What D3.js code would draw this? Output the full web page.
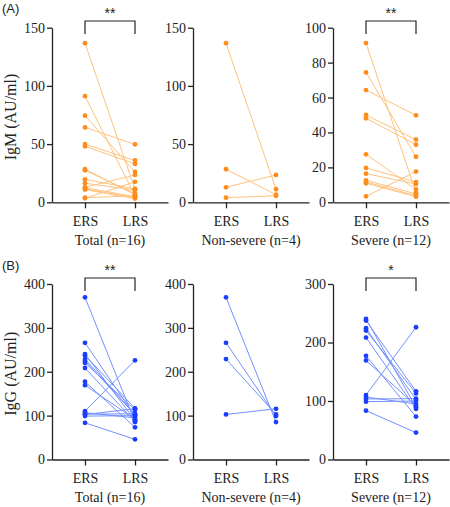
<!DOCTYPE html>
<html><head><meta charset="utf-8">
<script src="https://cdn.jsdelivr.net/npm/d3@7"></script>
<style>
html,body{margin:0;padding:0;background:#fff;}
svg{display:block;}
text{font-family:"Liberation Serif","Times New Roman",serif;fill:#222;}
</style></head>
<body>
<script>
const groups = ["ERS", "LRS"];
const panelTitles = ["Total (n=16)", "Non-severe (n=4)", "Severe (n=12)"];

const igmNonsevereERS = [136.7, 28.4, 12.9, 4.0];
const igmNonsevereLRS = [11.2, 6.5, 23.5, 5.6];
const igmSevereERS = [91.2, 74.4, 64.3, 50.0, 48.1, 27.5, 19.7, 16.4, 12.6, 11.6, 10.9, 3.4];
const igmSevereLRS = [5.5, 26.1, 49.8, 35.9, 33.0, 7.4, 11.6, 10.5, 4.8, 3.8, 3.2, 17.6];

const iggNonsevereERS = [369.6, 266.0, 229.0, 102.7];
const iggNonsevereLRS = [85.2, 98.9, 102.7, 115.6];
const iggSevereERS = [240.3, 237.5, 224.4, 220.5, 208.5, 177.3, 169.3, 110.2, 106.8, 103.4, 98.9, 83.5];
const iggSevereLRS = [89.2, 116.5, 102.3, 113.0, 86.4, 73.3, 92.0, 226.1, 94.9, 104.0, 100.0, 46.0];

const igmTicksWide = [0, 50, 100, 150];
const igmTicksSevere = [0, 20, 40, 60, 80, 100];
const iggTicksWide = [0, 100, 200, 300, 400];
const iggTicksSevere = [0, 100, 200, 300];

const sigMarks = [["**", "", "**"], ["**", "", "*"]];

const W = 450, H = 507;
const svg = d3.select("body").append("svg").attr("width", W).attr("height", H);

const panelX = [52, 193, 333];
const panelW = 116;
const rows = [
  {label: "(A)", ylab: "IgM (AU/ml)", y0: 202.3, y1: 27.7, labY: 8, color: "#ff8c1a", lineColor: "#ffc27d",
   sets: [[igmNonsevereERS.concat(igmSevereERS), igmNonsevereLRS.concat(igmSevereLRS)], [igmNonsevereERS, igmNonsevereLRS], [igmSevereERS, igmSevereLRS]],
   ticks: [igmTicksWide, igmTicksWide, igmTicksSevere], bracketY: 21},
  {label: "(B)", ylab: "IgG (AU/ml)", y0: 459.5, y1: 284, labY: 265, color: "#1a3dff", lineColor: "#7390ff",
   sets: [[iggNonsevereERS.concat(iggSevereERS), iggNonsevereLRS.concat(iggSevereLRS)], [iggNonsevereERS, iggNonsevereLRS], [iggSevereERS, iggSevereLRS]],
   ticks: [iggTicksWide, iggTicksWide, iggTicksSevere], bracketY: 278}
];

rows.forEach((row, ri) => {
  svg.append("text").attr("x", 2).attr("y", row.labY).attr("dy", "0.35em")
    .style("font-family", "'Liberation Sans',Arial,sans-serif").style("font-size", "13px").text(row.label);
  svg.append("text").attr("transform", `translate(10,${(row.y0 + row.y1) / 2 + 2}) rotate(-90)`)
    .attr("text-anchor", "middle").attr("dy", "0.35em").style("font-size", "16px").text(row.ylab);

  row.sets.forEach((set, pi) => {
    const x0 = panelX[pi];
    const ticks = row.ticks[pi];
    const y = d3.scaleLinear().domain([0, d3.max(ticks)]).range([row.y0, row.y1]);
    const x = d3.scalePoint().domain(groups).range([x0, x0 + panelW]).padding(0.66);
    const g = svg.append("g");

    const yAxis = g.append("g").attr("transform", `translate(${x0},0)`)
      .call(d3.axisLeft(y).tickValues(ticks).tickSize(5).tickPadding(2).tickSizeOuter(0));
    const xAxis = g.append("g").attr("transform", `translate(0,${row.y0})`)
      .call(d3.axisBottom(x).tickSize(6).tickPadding(8).tickSizeOuter(0));
    [yAxis, xAxis].forEach(a => {
      a.select(".domain").attr("stroke", "#222").attr("stroke-width", 1.3);
      a.selectAll(".tick line").attr("stroke", "#222").attr("stroke-width", 1.3);
      a.selectAll(".tick text").style("font-family", "'Liberation Serif','Times New Roman',serif").style("font-size", "14px").attr("fill", "#222");
    });

    svg.append("text").attr("x", x0 + panelW / 2 + 0).attr("y", row.y0 + 38).attr("text-anchor", "middle")
      .attr("dy", "0.35em").style("font-size", "14px").text(panelTitles[pi]);

    const [ers, lrs] = set;
    const pairs = ers.map((v, i) => [v, lrs[i]]);
    g.selectAll("line.pair").data(pairs).join("line").attr("class", "pair")
      .attr("x1", x("ERS")).attr("x2", x("LRS"))
      .attr("y1", d => y(d[0])).attr("y2", d => y(d[1]))
      .attr("stroke", row.lineColor).attr("stroke-width", 1);
    g.selectAll("circle.e").data(ers).join("circle").attr("class", "e")
      .attr("cx", x("ERS")).attr("cy", d => y(d)).attr("r", 2.4).attr("fill", row.color);
    g.selectAll("circle.l").data(lrs).join("circle").attr("class", "l")
      .attr("cx", x("LRS")).attr("cy", d => y(d)).attr("r", 2.4).attr("fill", row.color);

    const sig = sigMarks[ri][pi];
    if (sig) {
      const by = row.bracketY;
      g.append("path").attr("d", `M${x("ERS")},${by + 13}V${by}H${x("LRS")}V${by + 13}`)
        .attr("fill", "none").attr("stroke", "#222").attr("stroke-width", 1.2);
      g.append("text").attr("x", (x("ERS") + x("LRS")) / 2).attr("y", by - 3)
        .attr("text-anchor", "middle").style("font-size", "14px")
        .style("font-family", "'Liberation Sans',Arial,sans-serif").text(sig);
    }
  });
});
</script>
</body></html>
